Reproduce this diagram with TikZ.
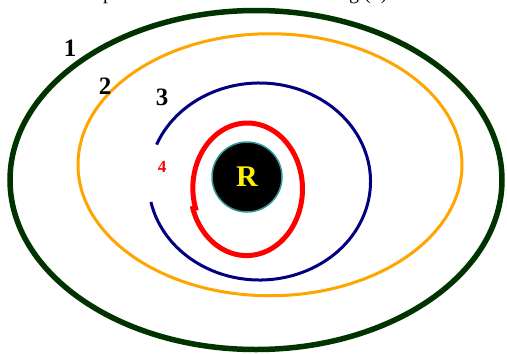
\documentclass[tikz,border=0pt]{standalone}
\usepackage{fontspec}
\setmainfont{Liberation Serif}
\definecolor{dkgreen}{HTML}{003300}
\definecolor{orng}{HTML}{FFA500}
\definecolor{nvy}{HTML}{000080}
\definecolor{tealb}{HTML}{339999}
\begin{document}
\begin{tikzpicture}[x=1pt,y=-1pt,
  lbl/.style={font=\fontsize{25}{28}\selectfont\bfseries, inner sep=0pt},
  frag/.style={font=\fontsize{20}{24}\selectfont, inner sep=0pt, anchor=base west}]
\useasboundingbox (0,0) rectangle (507,354);
\begin{scope}
  \clip (0,0) rectangle (507,354);
  \node[frag] (t1) at (103,-1) {p};
  \node[frag] (t2) at (349,-1) {g (x)};
\end{scope}
% outer ellipse 1
\draw[dkgreen, line width=5.5pt] (256,180) ellipse [x radius=246, y radius=169.5];
% ellipse 2
\draw[orng, line width=3pt] (270,164.75) ellipse [x radius=192, y radius=131];
% arc 3
\draw[nvy, line width=3pt] (259.5,181.5) ++(202:111 and 98.5) arc[start angle=202, end angle=528, x radius=111, y radius=98.5];
% spiral 4
\draw[red, line width=5pt] plot[domain=-200:165, samples=150, smooth]
  ({247+54*(1+0.05*(\x+200)/365)*cos(\x)}, {188.5+64.5*(1+0.05*(\x+200)/365)*sin(\x)});
% R
\node[circle, fill=black, draw=tealb, line width=1.5pt, minimum size=70pt, inner sep=0pt,
  font=\fontsize{30}{34}\selectfont\bfseries, text=yellow] (R) at (247,177) {R};
% labels
\node[lbl] (l1) at (70,48) {1};
\node[lbl] (l2) at (105,86) {2};
\node[lbl] (l3) at (162,97) {3};
\node[lbl, text=red, font=\fontsize{17}{20}\selectfont\bfseries] (l4) at (162,167) {4};
\end{tikzpicture}
\end{document}
